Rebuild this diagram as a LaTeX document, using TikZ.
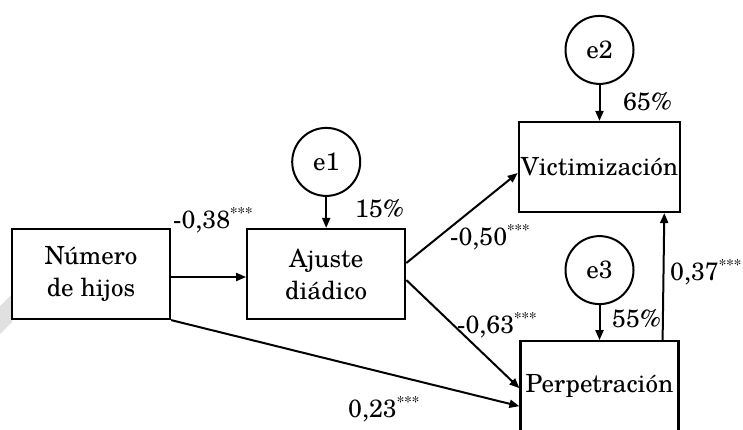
\documentclass[tikz,border=0pt]{standalone}
\usepackage{fontspec}
\setmainfont{TeX Gyre Schola}
\usepackage{tikz}
\usetikzlibrary{arrows.meta,positioning}
\tikzstyle{var} = [draw, line width=2.2pt, fill=white, minimum width=158pt, minimum height=90pt, align=center, inner sep=2pt]
\tikzstyle{err} = [draw, circle, line width=2pt, minimum size=68pt, inner sep=0pt]
\tikzstyle{arr} = [line width=2pt, ->, >={Triangle[length=10pt,width=8pt]}]
\tikzstyle{coef} = [anchor=base west, inner sep=0pt]
\newcommand{\sig}{\textsuperscript{\fontsize{15}{15}\selectfont ***}}

\begin{document}
\begin{tikzpicture}[x=1pt,y=-1pt,font=\fontsize{25}{32}\selectfont]
\useasboundingbox (0,0) rectangle (743,429);
\fill[black!12] (0,334) -- (12,322) -- (12,294) -- (0,306) -- cycle;

\node[var] (num) at (91,274) {N\'umero\\de hijos};
\node[var,right=75pt of num] (ajuste) {Ajuste\\di\'adico};
\node[var] (vic) at (599.5,167) {Victimizaci\'on};
\node[var,below=127pt of vic] (perp) {Perpetraci\'on};

\node[err,above=31pt of ajuste] (e1) {e1};
\node[err,above=36pt of vic] (e2) {e2};
\node[err,above=35pt of perp] (e3) {e3};

\draw[arr] (e1) -- (ajuste);
\draw[arr] (e2) -- (vic);
\draw[arr] (e3) -- (perp);
\draw[arr] ([yshift=-3pt]num.east) -- ([yshift=-3pt]ajuste.west);
\draw[arr] ([yshift=11pt]ajuste.east) -- ([yshift=-6pt]vic.west);
\draw[arr] ([yshift=-6pt]ajuste.east) -- ([yshift=-2pt]perp.west);
\draw[arr] (num.south east) -- ([yshift=-20pt]perp.west);
\draw[arr] ([xshift=-17pt]perp.north east) -- ([xshift=-17pt]vic.south east);

% coeficientes
\node[coef] (c38) at (173,228) {-0,38\sig};
\node[coef] (r15) at (355,217) {15\%};
\node[coef] (r65) at (623,110) {65\%};
\node[coef] (c50) at (450,245) {-0,50\sig};
\node[coef] (c63) at (457,333) {-0,63\sig};
\node[coef] (c37) at (670,280) {0,37\sig};
\node[coef] (r55) at (612,327) {55\%};
\node[coef] (c23) at (348,417) {0,23\sig};
\end{tikzpicture}
\end{document}
